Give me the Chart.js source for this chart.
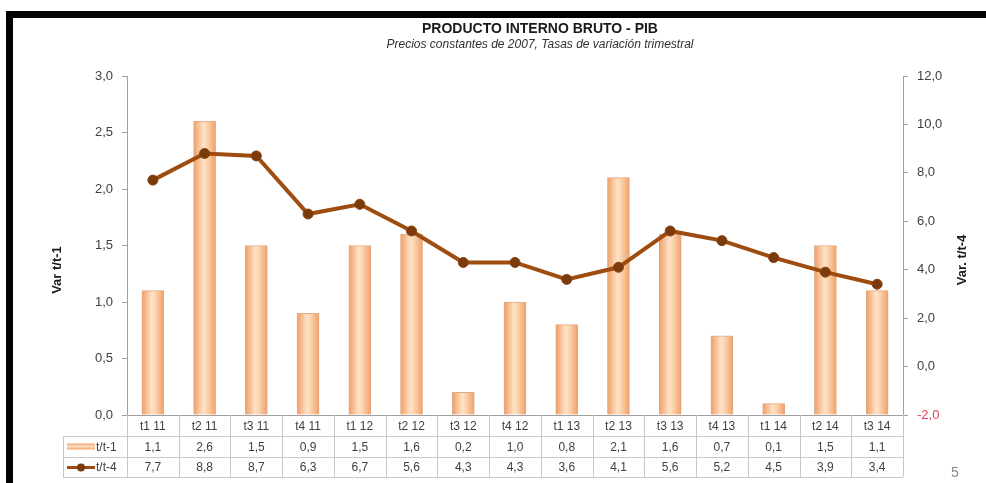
<!DOCTYPE html>
<html>
<head>
<meta charset="utf-8">
<script src="https://cdn.jsdelivr.net/npm/chart.js@4"></script>
<style>
  body { margin: 0; background: #fff; }
  #wrap { position: relative; width: 986px; height: 483px; }
  #frame { position: absolute; left: 6px; top: 11px; right: 0; height: 469px;
           border-top: 7px solid #000; border-left: 7px solid #000; border-bottom: 1px solid #d0d0d0; pointer-events: none; }
  .ttl { position: absolute; left: 340px; width: 400px; text-align: center; color: #1a1a1a; font-family: "Liberation Sans Narrow", "Liberation Sans", sans-serif; }
  #t1 { top: 20px; font-size: 14px; font-weight: bold; }
  #t2 { top: 37px; font-size: 12px; font-style: italic; font-family: "Liberation Sans", sans-serif; color: #303030; }
  #pg { position: absolute; left: 951px; top: 464px; font: 14px "Liberation Sans", sans-serif; color: #888; }
</style>
</head>
<body>
<div id="wrap">
  <canvas id="graph" width="986" height="483"></canvas>
  <div id="frame"></div>
  <div class="ttl" id="t1">PRODUCTO INTERNO BRUTO - PIB</div>
  <div class="ttl" id="t2">Precios constantes de 2007, Tasas de variación trimestral</div>
  <div id="pg">5</div>
</div>
<script>
// datos
var categorias = ['t1 11','t2 11','t3 11','t4 11','t1 12','t2 12','t3 12','t4 12','t1 13','t2 13','t3 13','t4 13','t1 14','t2 14','t3 14'];
var varT1 = [1.1, 2.6, 1.5, 0.9, 1.5, 1.6, 0.2, 1.0, 0.8, 2.1, 1.6, 0.7, 0.1, 1.5, 1.1];
var varT4 = [7.7, 8.8, 8.7, 6.3, 6.7, 5.6, 4.3, 4.3, 3.6, 4.1, 5.6, 5.2, 4.5, 3.9, 3.4];
var nombres = ['t/t-1', 't/t-4'];
var tituloIzq = 'Var t/t-1';
var tituloDer = 'Var. t/t-4';

var coma = function (v) { return Number(v).toFixed(1).replace('.', ','); };
var font = '"Liberation Sans", sans-serif';

// degradado horizontal de cada barra (efecto cilindro)
function colorBarra(c) {
    var chart = c.chart;
    if (!chart.chartArea) return '#f5b27a';
    var x = chart.scales.x.getPixelForValue(c.dataIndex);
    var g = chart.ctx.createLinearGradient(x - 11, 0, x + 11, 0);
    g.addColorStop(0, '#f09e66');
    g.addColorStop(0.45, '#fee2c6');
    g.addColorStop(0.6, '#fcd6b2');
    g.addColorStop(1, '#f1a068');
    return g;
}

function tituloVertical(ctx, texto, x, y) {
    ctx.save();
    ctx.translate(x, y);
    ctx.rotate(-Math.PI / 2);
    ctx.fillStyle = '#1a1a1a';
    ctx.font = 'bold 13px ' + font;
    ctx.textAlign = 'center';
    ctx.textBaseline = 'middle';
    ctx.fillText(texto, 0, 0);
    ctx.restore();
}

// tabla de datos debajo del eje + titulos de los ejes
var tablaPlugin = {
    id: 'tabla',
    afterDraw: function (chart) {
        var ctx = chart.ctx, x = chart.scales.x, area = chart.chartArea;
        var w = area.width / categorias.length;
        var y0 = area.bottom, y1 = y0 + 21, y2 = y1 + 21, y3 = y2 + 20;
        var izq = 63;
        ctx.save();
        ctx.strokeStyle = '#c8c8c8';
        ctx.lineWidth = 1;
        ctx.beginPath();
        [y1, y2, y3].forEach(function (y) { ctx.moveTo(izq, y + 0.5); ctx.lineTo(area.right, y + 0.5); });
        for (var i = 0; i <= categorias.length; i++) {
            var xx = Math.round(area.left + i * w) + 0.5;
            ctx.moveTo(xx, y0); ctx.lineTo(xx, y3);
        }
        ctx.moveTo(izq + 0.5, y1); ctx.lineTo(izq + 0.5, y3);
        ctx.stroke();

        ctx.fillStyle = '#404040';
        ctx.font = '12px ' + font;
        ctx.textAlign = 'center';
        ctx.textBaseline = 'middle';
        categorias.forEach(function (c, i) {
            var cx = x.getPixelForValue(i);
            ctx.fillText(coma(varT1[i]), cx, (y1 + y2) / 2 + 1);
            ctx.fillText(coma(varT4[i]), cx, (y2 + y3) / 2 + 1);
        });

        // leyenda
        var g = ctx.createLinearGradient(0, (y1 + y2) / 2 - 3, 0, (y1 + y2) / 2 + 3);
        g.addColorStop(0, '#f0a46c');
        g.addColorStop(0.5, '#fde0c2');
        g.addColorStop(1, '#f0a46c');
        ctx.fillStyle = g;
        ctx.fillRect(67, (y1 + y2) / 2 - 3, 28, 6);
        ctx.strokeStyle = '#9c4a12';
        ctx.lineWidth = 3;
        ctx.beginPath();
        ctx.moveTo(67, (y2 + y3) / 2 + 0.5); ctx.lineTo(95, (y2 + y3) / 2 + 0.5);
        ctx.stroke();
        ctx.fillStyle = '#7a3a0c';
        ctx.beginPath();
        ctx.arc(81, (y2 + y3) / 2 + 0.5, 4, 0, Math.PI * 2);
        ctx.fill();
        ctx.fillStyle = '#404040';
        ctx.textAlign = 'left';
        ctx.fillText(nombres[0], 96, (y1 + y2) / 2 + 1);
        ctx.fillText(nombres[1], 96, (y2 + y3) / 2 + 1);
        ctx.restore();

        tituloVertical(ctx, tituloIzq, 57, 270);
        tituloVertical(ctx, tituloDer, 962, 260);
    }
};

var ctx = document.getElementById('graph');
var grafico = new Chart(ctx, {
    type: 'bar',
    data: {
        labels: categorias,
        datasets: [{
            type: 'bar',
            label: nombres[0],
            data: varT1,
            yAxisID: 'y',
            backgroundColor: colorBarra,
            borderColor: '#e0aa84',
            borderWidth: 1,
            barThickness: 22,
            order: 2
        }, {
            type: 'line',
            label: nombres[1],
            data: varT4,
            yAxisID: 'y1',
            borderColor: '#9e4c10',
            borderWidth: 4,
            pointRadius: 5,
            pointBackgroundColor: '#7a3a0c',
            pointBorderColor: '#8a420e',
            pointBorderWidth: 1,
            tension: 0,
            order: 1
        }]
    },
    plugins: [tablaPlugin],
    options: {
        responsive: false,
        animation: false,
        layout: { padding: { top: 76, left: 45, right: 13, bottom: 6 } },
        plugins: {
            legend: { display: false },
            tooltip: { enabled: false }
        },
        scales: {
            x: {
                grid: { display: false, drawTicks: false },
                border: { display: true, color: '#a0a0a0' },
                ticks: { color: '#404040', font: { family: font, size: 12 }, padding: 4, maxRotation: 0 },
                afterFit: function (s) { s.height = 62; }
            },
            y: {
                position: 'left',
                min: 0, max: 3,
                grid: { drawOnChartArea: false, tickLength: 5, color: '#a0a0a0' },
                border: { color: '#a0a0a0' },
                ticks: { stepSize: 0.5, padding: 9, color: '#404040', font: { family: font, size: 13 }, callback: coma },
                afterFit: function (s) { s.width = 82; }
            },
            y1: {
                position: 'right',
                min: -2, max: 12,
                grid: { drawOnChartArea: false, tickLength: 5, color: '#a0a0a0' },
                border: { color: '#a0a0a0' },
                ticks: {
                    stepSize: 2, padding: 9, font: { family: font, size: 13 }, callback: coma,
                    color: function (c) { return c.tick && c.tick.value < 0 ? '#e0405a' : '#404040'; }
                },
                afterFit: function (s) { s.width = 70; }
            }
        }
    }
});
</script>
</body>
</html>
